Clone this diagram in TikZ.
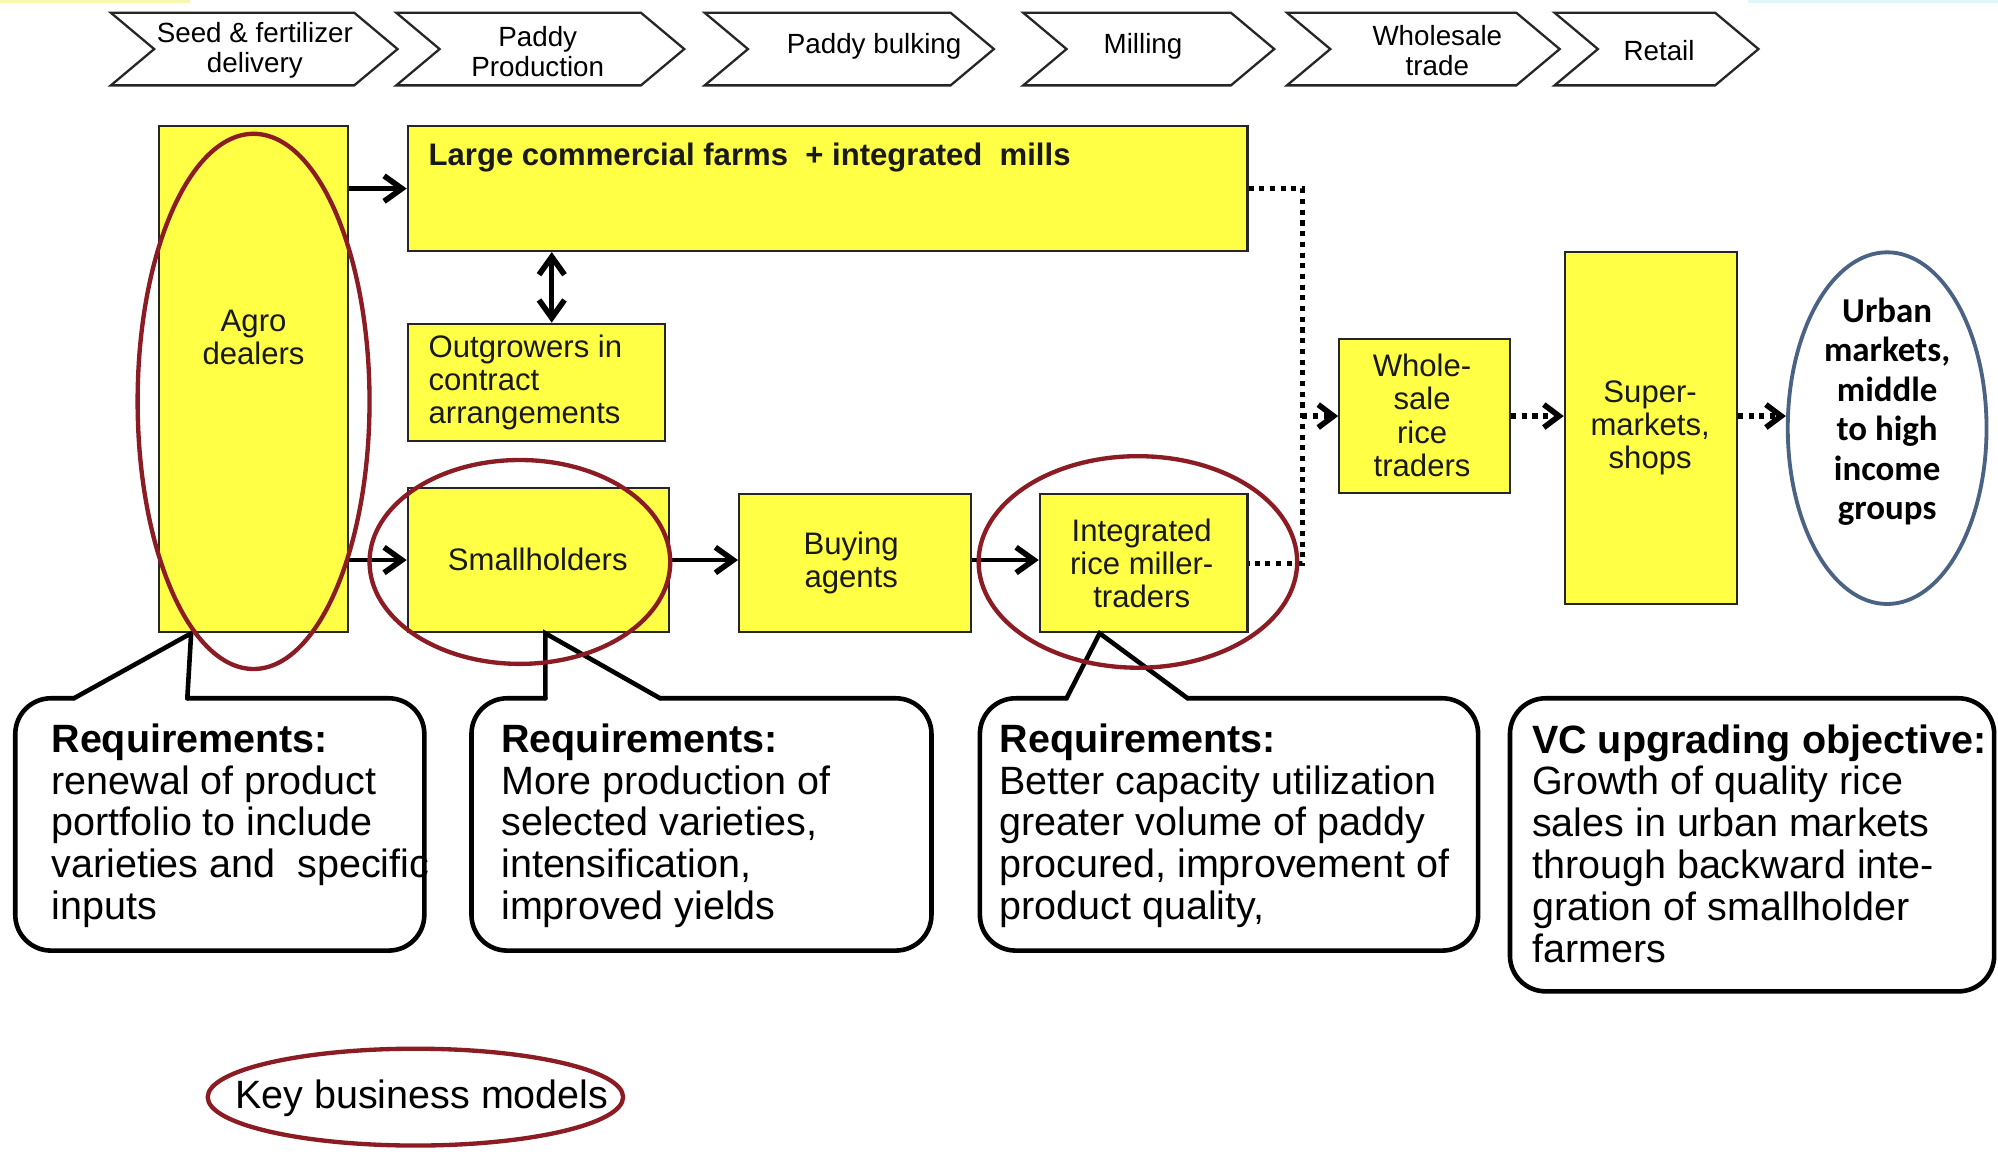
\documentclass[tikz,border=0pt]{standalone}
\usepackage{fontspec}
\setmainfont{Liberation Sans}
\newfontfamily\calibrifont{Carlito}
\usetikzlibrary{arrows.meta,shapes.geometric,fit}
\definecolor{boxyellow}{RGB}{255,255,70}
\definecolor{kbmred}{RGB}{139,28,36}
\definecolor{urbanblue}{RGB}{74,98,132}
\definecolor{stripyellow}{RGB}{250,246,175}
\definecolor{stripcyan}{RGB}{222,247,250}
\newcommand\chevshape[2]{\draw[chev] (#1,10) -- ({#2-34},10) -- (#2,38.5) -- ({#2-34},67) -- (#1,67) -- ({#1+34},38.5) -- cycle;}
\begin{document}
\begin{tikzpicture}[x=0.5pt,y=-0.5pt,
  chev/.style={draw=black!85, line width=0.9pt, line join=miter},
  chevtext/.style={font=\fontsize{10.9}{11.6}\selectfont, align=center, inner sep=0pt},
  box/.style={draw=black!85, line width=0.8pt, fill=boxyellow, inner sep=0pt},
  boxtext/.style={font=\fontsize{12.2}{13}\selectfont, align=center, inner sep=0pt, text=black!90},
  arr/.style={line width=1.8pt, -{Straight Barb[length=7pt,width=10pt,line width=2.2pt]}},
  darr/.style={line width=1.8pt, {Straight Barb[length=7pt,width=10pt,line width=2.2pt]}-{Straight Barb[length=7pt,width=10pt,line width=2.2pt]}},
  dotline/.style={line width=2pt, dash pattern=on 2pt off 2.2pt},
  dotarr/.style={dotline, -{Straight Barb[length=6pt,width=9pt,line width=2.2pt,sep=0pt]}},
  callout/.style={draw=black, line width=1.8pt, rounded corners=14pt, line cap=round},
  pointer/.style={draw=black, line width=1.8pt, line cap=round, line join=miter},
  callt/.style={font=\fontsize{15.5}{16.4}\selectfont, align=left, anchor=west, inner sep=0pt},
  redell/.style={draw=kbmred, line width=1.7pt}
]
\useasboundingbox (0,0) rectangle (1568,905);
\fill[white] (0,0) rectangle (1568,905);
\fill[stripyellow] (0,0) rectangle (149,2.5);
\fill[stripcyan] (1372,0) rectangle (1568,2.5);

% value chain stages
\chevshape{87}{312}
\chevshape{311}{537}
\chevshape{553}{780}
\chevshape{803}{1000}
\chevshape{1010}{1224}
\chevshape{1220}{1380}
\node[chevtext] (c1) at (200,39.5) {Seed \& fertilizer\\delivery};
\node[chevtext] (c2) at (422,40.5) {Paddy\\Production};
\node[chevtext] (c3) at (686,36) {Paddy bulking};
\node[chevtext] (c4) at (897,36) {Milling};
\node[chevtext] (c5) at (1128,39.5) {Wholesale\\trade};
\node[chevtext] (c6) at (1302,40) {Retail};

% boxes
\node[box, fit={(125,99) (273,496)}] (agro) {};
\node[box, fit={(320,99) (979,197)}] (large) {};
\node[box, fit={(320,254) (522,346)}] (outg) {};
\node[box, fit={(320,383) (525,496)}] (small) {};
\node[box, fit={(580,388) (762,496)}] (buy) {};
\node[box, fit={(816,388) (979,496)}] (integ) {};
\node[box, fit={(1051,266) (1185,387)}] (whole) {};
\node[box, fit={(1228,198) (1363,474)}] (super) {};

\node[boxtext] (agrot) at (199,265) {Agro\\dealers};
\node[boxtext, anchor=west, font={\fontsize{12.2}{13}\selectfont\bfseries}] (larget) at (336,124) {Large commercial farms\ \ + integrated\ \ mills};
\node[boxtext, align=left, anchor=west] (outgt) at (336,300) {Outgrowers in\\contract\\arrangements};
\node[boxtext] (smallt) at (422,439) {Smallholders};
\node[boxtext] (buyt) at (668,442) {Buying\\agents};
\node[boxtext] (integt) at (896,442) {Integrated\\rice miller-\\traders};
\node[boxtext] (wholet) at (1116,326) {Whole-\\sale\\rice\\traders};
\node[boxtext] (supert) at (1295,336) {Super-\\markets,\\shops};

\node[draw=urbanblue, line width=1.5pt, ellipse, minimum width=78pt, minimum height=138pt, inner sep=0pt] (urban) at (1481,336) {};
\node[font={\calibrifont\bfseries\fontsize{13.7}{15.5}\selectfont}, align=center, inner sep=0pt] (urbant) at (1481,323) {Urban\\markets,\\middle\\to high\\income\\groups};

% connectors
\draw[arr] (agro.east |- large.west) -- (large.west);
\draw[arr] (agro.east |- small.west) -- (small.west);
\draw[arr] (small.east) -- (small.east -| buy.west);
\draw[arr] (buy.east |- small.east) -- (small.east -| integ.west);
\draw[darr] ([xshift=6pt]outg.north) -- ([xshift=6pt]outg.north |- large.south);
\coordinate (jx) at (1022,0);
\draw[dotline] (large.east) -| (integ.east -| jx) -- (integ.east);
\draw[dotarr] (jx |- whole.west) -- (whole.west);
\draw[dotarr] (whole.east) -- (whole.east -| super.west);
\draw[dotarr] (whole.east -| super.east) -- (whole.east -| urban.west);

% callouts
\draw[callout] (147,548) -- (333,548) -- (333,746) -- (12,746) -- (12,548) -- (58,548);
\draw[pointer] (58,548) -- (150,497) -- (147,548);
\draw[callout] (518,548) -- (731,548) -- (731,746) -- (370,746) -- (370,548) -- (428,548);
\draw[pointer] (428,548) -- (428,497) -- (518,548);
\draw[callout] (932,548) -- (1160,548) -- (1160,746) -- (769,746) -- (769,548) -- (837,548);
\draw[pointer] (837,548) -- (863,497) -- (932,548);
\draw[callout] (1185,548) rectangle (1565,778);

\node[callt] (req1) at (40,648) {\textbf{Requirements:}\\renewal of product\\portfolio to include\\varieties and\ \ specific\\inputs};
\node[callt] (req2) at (393,648) {\textbf{Requirements:}\\More production of\\selected varieties,\\intensification,\\improved yields};
\node[callt] (req3) at (784,648) {\textbf{Requirements:}\\Better capacity utilization\\greater volume of paddy\\procured, improvement of\\product quality,};
\node[callt] (vc) at (1202,662) {\textbf{VC upgrading objective:}\\Growth of quality rice\\sales in urban markets\\through backward inte-\\gration of smallholder\\farmers};

% key business models
\draw[redell] (199,315) ellipse [x radius=91, y radius=210];
\draw[redell] (408,441) ellipse [x radius=118, y radius=80];
\draw[redell] (893,441) ellipse [x radius=125, y radius=83];
\draw[redell] (326,861) ellipse [x radius=163, y radius=38];
\node[font=\fontsize{15.5}{16.4}\selectfont, inner sep=0pt] (kbm) at (331,862) {Key business models};
\end{tikzpicture}
\end{document}
